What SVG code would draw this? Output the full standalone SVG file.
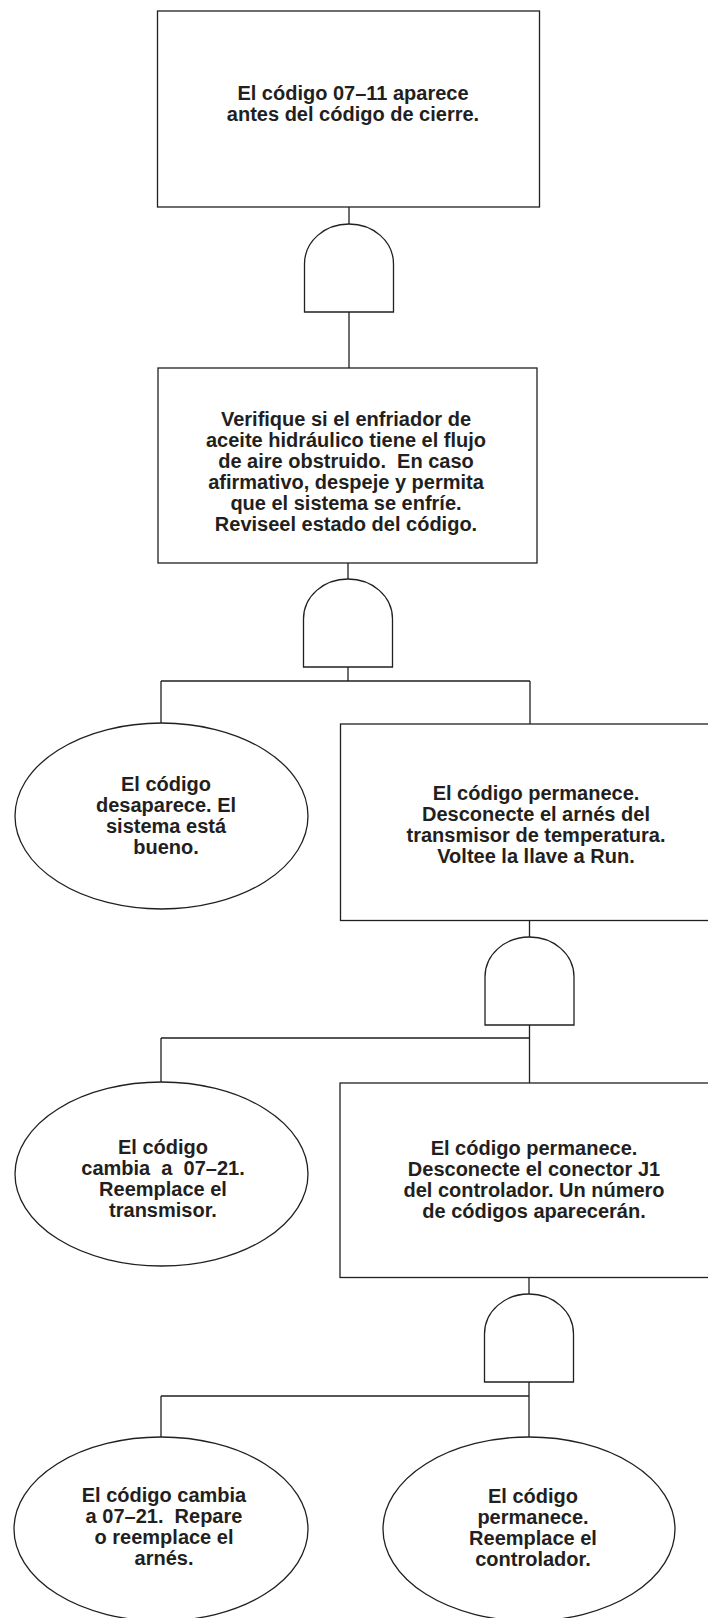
<svg xmlns="http://www.w3.org/2000/svg" xmlns:xlink="http://www.w3.org/1999/xlink" width="708" height="1618" viewBox="0 0 708 1618">
<style>
.shape{fill:#fff;stroke:#231f20;stroke-width:1.3}
.conn{fill:none;stroke:#231f20;stroke-width:1.3}
.t{font-family:"Liberation Sans",Arial,Helvetica,sans-serif;font-weight:bold;font-size:20px;fill:#231f20;text-anchor:middle;white-space:pre}
</style>
<defs>
<path id="gate" class="shape" d="M-44.5,88 V40 C-44.5,17 -24,0 0,0 C24,0 44.5,17 44.5,40 V88 Z"/>
</defs>
<rect width="708" height="1618" fill="#fff"/>
<g id="connectors">
<path class="conn" d="M349,207 V224 M349,312 V368 M348,563 V579 M348,666 V681 M161,681 H530 M161,681 V723 M530,681 V724"/>
<path class="conn" d="M529.5,920.5 V937 M529.5,1025 V1083 M161,1038 H529.5 M161,1038 V1082"/>
<path class="conn" d="M529,1277.5 V1294 M529,1382 V1437 M161,1396 H529 M161,1396 V1437"/>
</g>
<g id="node1">
<rect class="shape" x="157.5" y="11" width="382" height="196"/>
<text class="t" x="353" y="100">El código 07–11 aparece</text>
<text class="t" x="353" y="121">antes del código de cierre.</text>
</g>
<g id="gate1"><use xlink:href="#gate" x="349" y="224"/></g>
<g id="node2">
<rect class="shape" x="158" y="368" width="379" height="195"/>
<text class="t" x="346" y="426">Verifique si el enfriador de</text>
<text class="t" x="346" y="447">aceite hidráulico tiene el flujo</text>
<text class="t" x="346" y="468" xml:space="preserve">de aire obstruido.  En caso</text>
<text class="t" x="346" y="489">afirmativo, despeje y permita</text>
<text class="t" x="346" y="510">que el sistema se enfríe.</text>
<text class="t" x="346" y="531">Reviseel estado del código.</text>
</g>
<g id="gate2"><use xlink:href="#gate" x="348" y="579"/></g>
<g id="node3">
<ellipse class="shape" cx="161.5" cy="816" rx="146.5" ry="93"/>
<text class="t" x="166" y="791">El código</text>
<text class="t" x="166" y="812">desaparece. El</text>
<text class="t" x="166" y="833">sistema está</text>
<text class="t" x="166" y="854">bueno.</text>
</g>
<g id="node4">
<rect class="shape" x="340.5" y="724" width="390" height="196.5"/>
<text class="t" x="536" y="800">El código permanece.</text>
<text class="t" x="536" y="821">Desconecte el arnés del</text>
<text class="t" x="536" y="842">transmisor de temperatura.</text>
<text class="t" x="536" y="863">Voltee la llave a Run.</text>
</g>
<g id="gate3"><use xlink:href="#gate" x="529.5" y="937"/></g>
<g id="node5">
<ellipse class="shape" cx="161.5" cy="1174" rx="146.5" ry="92"/>
<text class="t" x="163" y="1154">El código</text>
<text class="t" x="163" y="1175" xml:space="preserve">cambia  a  07–21.</text>
<text class="t" x="163" y="1196">Reemplace el</text>
<text class="t" x="163" y="1217">transmisor.</text>
</g>
<g id="node6">
<rect class="shape" x="340" y="1083" width="390" height="194.5"/>
<text class="t" x="534" y="1155">El código permanece.</text>
<text class="t" x="534" y="1176">Desconecte el conector J1</text>
<text class="t" x="534" y="1197">del controlador. Un número</text>
<text class="t" x="534" y="1218">de códigos aparecerán.</text>
</g>
<g id="gate4"><use xlink:href="#gate" x="529" y="1294"/></g>
<g id="node7">
<ellipse class="shape" cx="161" cy="1529" rx="147" ry="92"/>
<text class="t" x="164" y="1502">El código cambia</text>
<text class="t" x="164" y="1523" xml:space="preserve">a 07–21.  Repare</text>
<text class="t" x="164" y="1544">o reemplace el</text>
<text class="t" x="164" y="1565">arnés.</text>
</g>
<g id="node8">
<ellipse class="shape" cx="529" cy="1529" rx="146" ry="92"/>
<text class="t" x="533" y="1503">El código</text>
<text class="t" x="533" y="1524">permanece.</text>
<text class="t" x="533" y="1545">Reemplace el</text>
<text class="t" x="533" y="1566">controlador.</text>
</g>
</svg>
